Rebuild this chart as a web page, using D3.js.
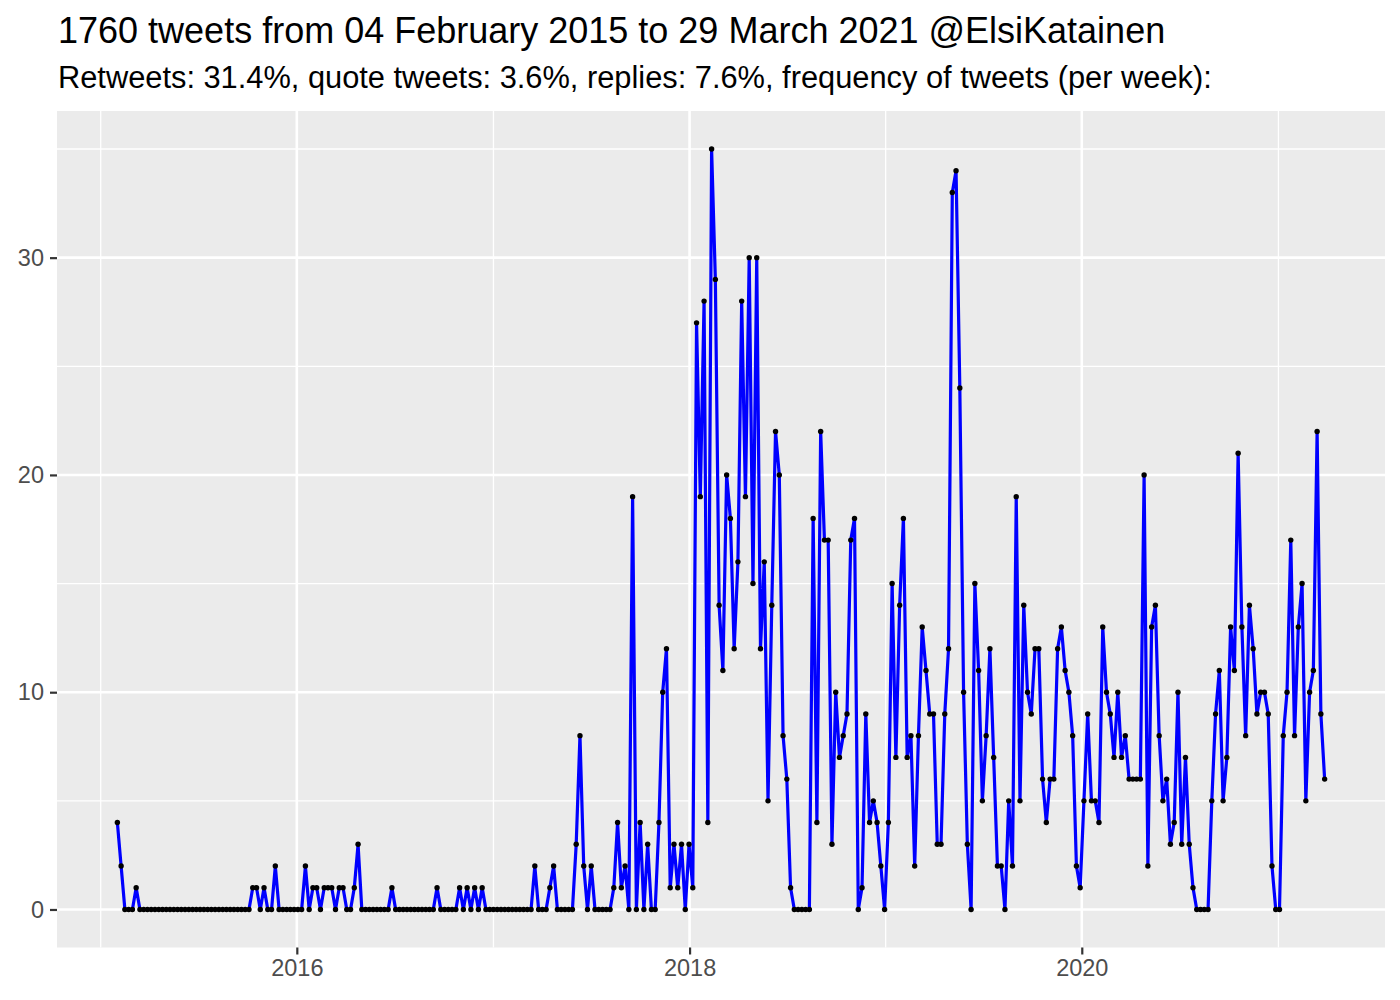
<!DOCTYPE html>
<html>
<head>
<meta charset="utf-8">
<script src="https://cdn.jsdelivr.net/npm/d3@7"></script>
<style>
  html, body { margin: 0; padding: 0; background: #fff; }
  svg { display: block; font-family: "Liberation Sans", Arial, Helvetica, sans-serif; }
</style>
</head>
<body>
<svg id="chart" width="1400" height="1000"></svg>
<script>
// ---- data ----
const titleText = "1760 tweets from 04 February 2015 to 29 March 2021 @ElsiKatainen";
const subtitleText = "Retweets: 31.4%, quote tweets: 3.6%, replies: 7.6%, frequency of tweets (per week):";
const firstWeek = "2015-02-01"; // week start (Sunday) of the first weekly bin
const weeklyCounts = [
  4,2,0,0,0,1,0,0,0,0, 0,0,0,0,0,0,0,0,0,0,
  0,0,0,0,0,0,0,0,0,0, 0,0,0,0,0,0,1,1,0,1,
  0,0,2,0,0,0,0,0,0,0, 2,0,1,1,0,1,1,1,0,1,
  1,0,0,1,3,0,0,0,0,0, 0,0,0,1,0,0,0,0,0,0,
  0,0,0,0,0,1,0,0,0,0, 0,1,0,1,0,1,0,1,0,0,
  0,0,0,0,0,0,0,0,0,0, 0,2,0,0,0,1,2,0,0,0,
  0,0,3,8,2,0,2,0,0,0, 0,0,1,4,1,2,0,19,0,4,
  0,3,0,0,4,10,12,1,3,1, 3,0,3,1,27,19,28,4,35,29,
  14,11,20,18,12,16,28,19,30,15, 30,12,16,5,14,22,20,8,6,1,
  0,0,0,0,0,18,4,22,17,17, 3,10,7,8,9,17,18,0,1,9,
  4,5,4,2,0,4,15,7,14,18, 7,8,2,8,13,11,9,9,3,3,
  9,12,33,34,24,10,3,0,15,11, 5,8,12,7,2,2,0,5,2,19,
  5,14,10,9,12,12,6,4,6,6, 12,13,11,10,8,2,1,5,9,5,
  5,4,13,10,9,7,10,7,8,6, 6,6,6,20,2,13,14,8,5,6,
  3,4,10,3,7,3,1,0,0,0, 0,5,9,11,5,7,13,11,21,13,
  8,14,12,9,10,10,9,2,0,0, 8,10,17,8,13,15,5,10,11,22,
  9,6
];
const yMajorTicks = [0, 10, 20, 30];
const yMinorTicks = [5, 15, 25, 35];
const xMajorYears = [2016, 2018, 2020];
const xMinorYears = [2015, 2017, 2019, 2021];

// ---- layout ----
const panel = { left: 57, right: 1385, top: 111, bottom: 947.5 };
const svg = d3.select("#chart");

const start = new Date(firstWeek + "T00:00:00Z");
const points = weeklyCounts.map((v, i) => ({ date: d3.utcWeek.offset(start, i), value: v }));

const xExtent = d3.extent(points, d => d.date);
const span = xExtent[1] - xExtent[0];
const x = d3.scaleUtc()
  .domain([new Date(+xExtent[0] - span * 0.05), new Date(+xExtent[1] + span * 0.05)])
  .range([panel.left, panel.right]);

const yMax = d3.max(weeklyCounts);
const y = d3.scaleLinear()
  .domain([0 - yMax * 0.05, yMax * 1.05])
  .range([panel.bottom, panel.top]);

// panel background
svg.append("rect")
  .attr("x", panel.left).attr("y", panel.top)
  .attr("width", panel.right - panel.left).attr("height", panel.bottom - panel.top)
  .attr("fill", "#EBEBEB");

const grid = svg.append("g");
const yearX = yr => x(new Date(Date.UTC(yr, 0, 1)));
// minor grid
grid.selectAll(".ymin").data(yMinorTicks).join("line")
  .attr("x1", panel.left).attr("x2", panel.right)
  .attr("y1", d => y(d)).attr("y2", d => y(d))
  .attr("stroke", "#fff").attr("stroke-width", 1.3);
grid.selectAll(".xmin").data(xMinorYears).join("line")
  .attr("y1", panel.top).attr("y2", panel.bottom)
  .attr("x1", yearX).attr("x2", yearX)
  .attr("stroke", "#fff").attr("stroke-width", 1.3);
// major grid
grid.selectAll(".ymaj").data(yMajorTicks).join("line")
  .attr("x1", panel.left).attr("x2", panel.right)
  .attr("y1", d => y(d)).attr("y2", d => y(d))
  .attr("stroke", "#fff").attr("stroke-width", 2.6);
grid.selectAll(".xmaj").data(xMajorYears).join("line")
  .attr("y1", panel.top).attr("y2", panel.bottom)
  .attr("x1", yearX).attr("x2", yearX)
  .attr("stroke", "#fff").attr("stroke-width", 2.6);

// clip
svg.append("clipPath").attr("id", "clip").append("rect")
  .attr("x", panel.left).attr("y", panel.top)
  .attr("width", panel.right - panel.left).attr("height", panel.bottom - panel.top);

const plot = svg.append("g").attr("clip-path", "url(#clip)");

const line = d3.line().x(d => x(d.date)).y(d => y(d.value));
plot.append("path").datum(points)
  .attr("d", line)
  .attr("fill", "none")
  .attr("stroke", "#0000FF")
  .attr("stroke-width", 3.2)
  .attr("stroke-linejoin", "round");

plot.selectAll("circle").data(points).join("circle")
  .attr("cx", d => x(d.date)).attr("cy", d => y(d.value))
  .attr("r", 2.7).attr("fill", "#000");

// axes
const yAxis = d3.axisLeft(y).tickValues(yMajorTicks).tickSize(7).tickPadding(6).tickFormat(d3.format("d"));
const gy = svg.append("g").attr("transform", `translate(${panel.left},0)`).call(yAxis);
gy.select(".domain").remove();
gy.selectAll(".tick line").attr("stroke", "#333333").attr("stroke-width", 2.2);
gy.selectAll(".tick text").attr("fill", "#4D4D4D").style("font-size", "23.5px")
  .style("font-family", "'Liberation Sans', Arial, sans-serif");

const xAxis = d3.axisBottom(x)
  .tickValues(xMajorYears.map(yr => new Date(Date.UTC(yr, 0, 1))))
  .tickSize(7).tickPadding(5)
  .tickFormat(d3.utcFormat("%Y"));
const gx = svg.append("g").attr("transform", `translate(0,${panel.bottom})`).call(xAxis);
gx.select(".domain").remove();
gx.selectAll(".tick line").attr("stroke", "#333333").attr("stroke-width", 2.2);
gx.selectAll(".tick text").attr("fill", "#4D4D4D").style("font-size", "23.5px")
  .style("font-family", "'Liberation Sans', Arial, sans-serif");

// titles
svg.append("text").attr("x", 58).attr("y", 43)
  .attr("fill", "#000").style("font-size", "36px").text(titleText);
svg.append("text").attr("x", 58).attr("y", 88)
  .attr("fill", "#000").style("font-size", "30.8px").text(subtitleText);
</script>
</body>
</html>
